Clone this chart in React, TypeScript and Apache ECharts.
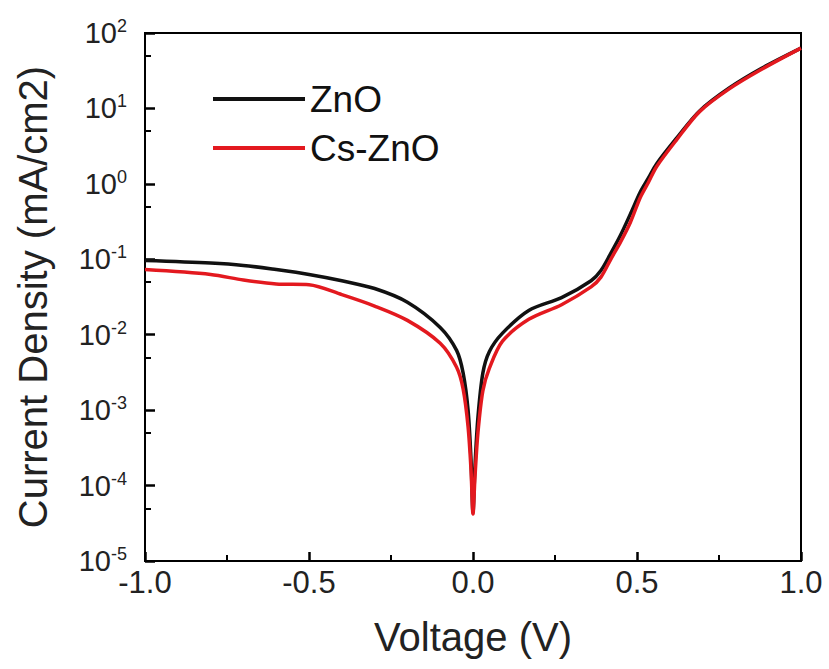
import React, { useEffect, useRef } from "react";
import * as echarts from "echarts";

const voltage = [-1.0, -0.8, -0.7, -0.6, -0.5, -0.4, -0.3, -0.2, -0.1, -0.05, -0.03, -0.015, -0.006, 0, 0.006, 0.015, 0.03, 0.05, 0.09, 0.17, 0.27, 0.36, 0.39, 0.42, 0.45, 0.48, 0.51, 0.535, 0.56, 0.62, 0.69, 0.78, 0.88, 1.0];
const znoCurrent = [0.096, 0.089, 0.083, 0.073, 0.063, 0.052, 0.041, 0.027, 0.0125, 0.0062, 0.0031, 0.001, 0.00022, 0.000044, 0.00018, 0.0008, 0.0031, 0.006, 0.0105, 0.021, 0.031, 0.052, 0.071, 0.12, 0.21, 0.4, 0.78, 1.2, 1.85, 4.0, 9.2, 18.5, 34, 63];
const csZnoCurrent = [0.073, 0.063, 0.053, 0.047, 0.046, 0.034, 0.024, 0.0155, 0.0077, 0.0037, 0.0019, 0.0006, 0.00016, 0.000042, 0.00013, 0.0005, 0.0018, 0.0036, 0.0082, 0.016, 0.025, 0.043, 0.058, 0.1, 0.17, 0.31, 0.66, 1.05, 1.7, 3.8, 9.0, 18, 33, 63];
const seriesNames = ["ZnO", "Cs-ZnO"];
const xMajorTicks = [-1, -0.5, 0, 0.5, 1];
const xMinorTicks = [-0.75, -0.25, 0.25, 0.75];
const yMajorTicks = [1e-5, 1e-4, 1e-3, 1e-2, 1e-1, 1, 10, 100];
const yMinorTicks = [5e-5, 5e-4, 5e-3, 5e-2, 0.5, 5, 50];

const FONT = "Liberation Sans";

export default function App() {
  const ref = useRef<HTMLDivElement>(null);
  useEffect(() => {
    if (!ref.current) return;
    const chart = echarts.init(ref.current, undefined, { renderer: "svg" });
    const pair = (ys: number[]) => voltage.map((v, i) => [v, ys[i]]);
    const expLabel = (v: number) => {
      const e = Math.round(Math.log10(v));
      return `{b|10}{s|${e}}`;
    };
    chart.setOption({
      animation: false,
      backgroundColor: "#fff",
      textStyle: { fontFamily: FONT },
      grid: {
        left: 145,
        right: 28,
        top: 33,
        bottom: 108,
        show: true,
        borderColor: "#000",
        borderWidth: 2,
      },
      legend: {
        orient: "vertical",
        left: 208,
        top: 75,
        itemGap: 11,
        itemWidth: 92,
        itemHeight: 4,
        icon: "rect",
        textStyle: { fontFamily: FONT, fontSize: 37, color: "#111", lineHeight: 38 },
        data: seriesNames,
      },
      xAxis: [
        {
          type: "value",
          min: -1,
          max: 1,
          interval: 0.5,
          name: "Voltage (V)",
          nameLocation: "middle",
          nameGap: 56,
          nameTextStyle: { fontFamily: FONT, fontSize: 40, color: "#222", lineHeight: 40 },
          axisLine: { show: true, onZero: false, lineStyle: { color: "#000", width: 2 } },
          axisTick: {
            show: true,
            inside: true,
            length: 9,
            customValues: xMajorTicks,
            lineStyle: { color: "#000", width: 2.5 },
          },
          splitLine: { show: false },
          axisLabel: {
            fontFamily: FONT,
            fontSize: 31,
            color: "#222",
            margin: 6,
            customValues: xMajorTicks,
            formatter: (v: number) => v.toFixed(1),
          },
        },
        {
          type: "value",
          min: -1,
          max: 1,
          position: "bottom",
          axisLine: { show: false, onZero: false },
          axisLabel: { show: false },
          splitLine: { show: false },
          axisTick: {
            show: true,
            inside: true,
            length: 6,
            customValues: xMinorTicks,
            lineStyle: { color: "#000", width: 2 },
          },
        },
      ],
      yAxis: [
        {
          type: "log",
          logBase: 10,
          min: 1e-5,
          max: 100,
          name: "Current Density (mA/cm2)",
          nameLocation: "middle",
          nameGap: 92,
          nameTextStyle: { fontFamily: FONT, fontSize: 40, color: "#222", lineHeight: 40 },
          axisLine: { show: true, onZero: false, lineStyle: { color: "#000", width: 2 } },
          axisTick: {
            show: true,
            inside: true,
            length: 10,
            customValues: yMajorTicks,
            lineStyle: { color: "#000", width: 2.5 },
          },
          splitLine: { show: false },
          axisLabel: {
            customValues: yMajorTicks,
            margin: 18,
            color: "#222",
            formatter: expLabel,
            rich: {
              b: { fontFamily: FONT, fontSize: 29, color: "#222", lineHeight: 32 },
              s: { fontFamily: FONT, fontSize: 18, color: "#222", lineHeight: 18, verticalAlign: "top" },
            },
          },
        },
        {
          type: "log",
          logBase: 10,
          min: 1e-5,
          max: 100,
          position: "left",
          axisLine: { show: false, onZero: false },
          axisLabel: { show: false },
          splitLine: { show: false },
          axisTick: {
            show: true,
            inside: true,
            length: 6,
            customValues: yMinorTicks,
            lineStyle: { color: "#000", width: 2 },
          },
        },
      ],
      series: [
        {
          name: seriesNames[0],
          type: "line",
          data: pair(znoCurrent),
          showSymbol: false,
          smooth: 0.3,
          color: "#111111",
          lineStyle: { width: 3.5, color: "#111111" },
          z: 2,
        },
        {
          name: seriesNames[1],
          type: "line",
          data: pair(csZnoCurrent),
          showSymbol: false,
          smooth: 0.3,
          color: "#e3191f",
          lineStyle: { width: 3.5, color: "#e3191f" },
          z: 3,
        },
      ],
    });
    return () => chart.dispose();
  }, []);
  return <div ref={ref} style={{ position: "fixed", left: 0, top: 0, width: 829, height: 669 }} />;
}
